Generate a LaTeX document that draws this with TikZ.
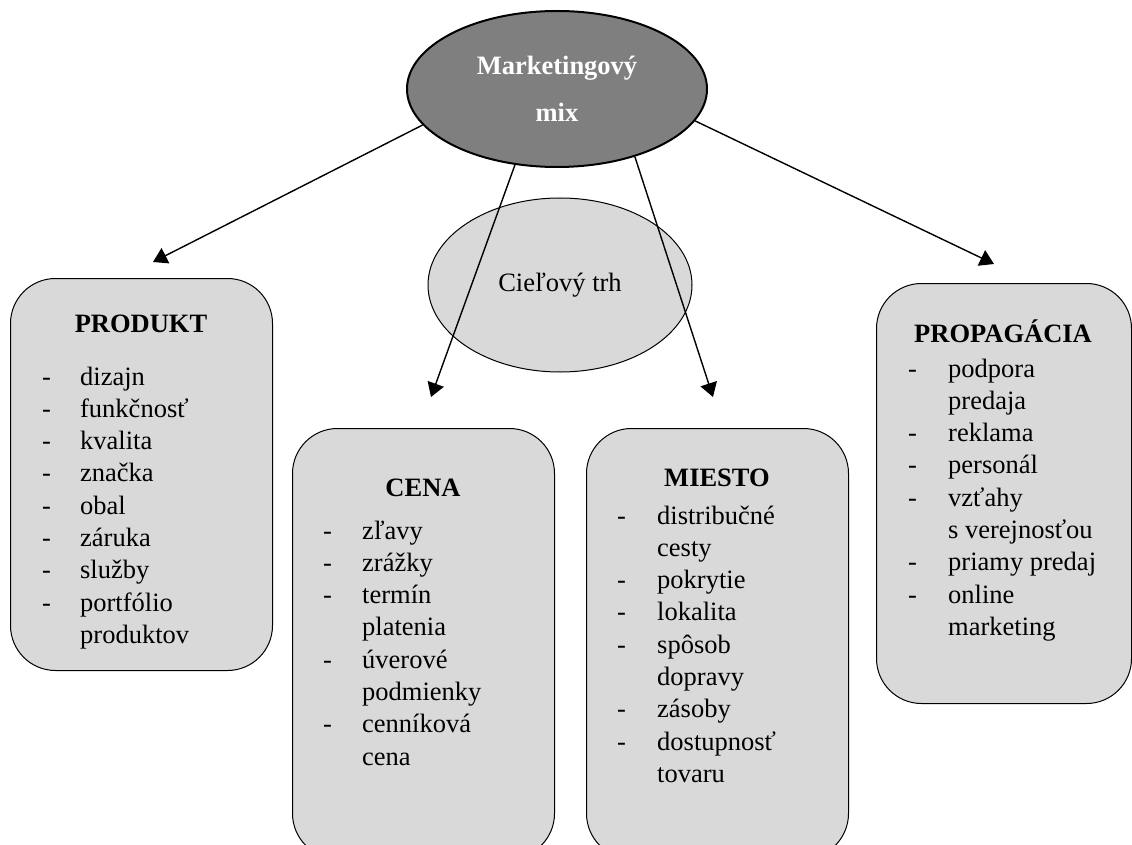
\documentclass[tikz,border=0pt]{standalone}
\usepackage{fontspec}
\setmainfont{Liberation Serif}
\usetikzlibrary{shapes.geometric,arrows.meta}
\definecolor{boxgray}{HTML}{D9D9D9}
\definecolor{mixgray}{HTML}{7F7F7F}
\begin{document}
\begin{tikzpicture}[x=1pt,y=-1pt,
  every node/.style={font=\fontsize{26.5}{32.3}\selectfont},
  panel/.style={draw=black, line width=1pt, fill=boxgray, rounded corners=45pt,
    anchor=north west, inner sep=0},
  heading/.style={font=\fontsize{26.5}{32.3}\selectfont\bfseries, anchor=base, inner sep=0},
  items/.style={anchor=base west, inner sep=0, align=left},
  link/.style={line width=1.4pt, -{Triangle[length=14pt,width=17pt]}}
]
\useasboundingbox (0,0) rectangle (1132,845);

% target market ellipse
\node[ellipse, draw=black, line width=1pt, fill=boxgray, minimum width=264pt,
  minimum height=174pt, inner sep=0] (target) at (560,285) {Cieľový trh};

% the four panels
\node[panel, minimum width=262pt, minimum height=392pt] (prod) at (10,278) {};
\node[panel, minimum width=262pt, minimum height=430pt] (cena) at (292,428) {};
\node[panel, minimum width=262pt, minimum height=430pt] (miesto) at (586,428) {};
\node[panel, minimum width=255pt, minimum height=420pt] (prop) at (876,283) {};

% panel headings
\node[heading] (prodT) at (141,332) {PRODUKT};
\node[heading] (cenaT) at (423,496) {CENA};
\node[heading] (miestoT) at (717,486) {MIESTO};
\node[heading] (propT) at (1003,342) {PROPAGÁCIA};

% panel items
\node[items] (prodL) at (42,385) {\begin{tabular}[t]{@{}p{38pt}@{}l@{}}
-&dizajn\\ -&funkčnosť\\ -&kvalita\\ -&značka\\ -&obal\\ -&záruka\\
-&služby\\ -&portfólio\\ &produktov\end{tabular}};
\node[items] (cenaL) at (323,539) {\begin{tabular}[t]{@{}p{39pt}@{}l@{}}
-&zľavy\\ -&zrážky\\ -&termín\\ &platenia\\ -&úverové\\ &podmienky\\
-&cenníková\\ &cena\end{tabular}};
\node[items] (miestoL) at (617,524) {\begin{tabular}[t]{@{}p{40pt}@{}l@{}}
-&distribučné\\ &cesty\\ -&pokrytie\\ -&lokalita\\ -&spôsob\\ &dopravy\\
-&zásoby\\ -&dostupnosť\\ &tovaru\end{tabular}};
\node[items] (propL) at (908,377) {\begin{tabular}[t]{@{}p{40pt}@{}l@{}}
-&podpora\\ &predaja\\ -&reklama\\ -&personál\\ -&vzťahy\\ &s verejnosťou\\
-&priamy predaj\\ -&online\\ &marketing\end{tabular}};

% arrow ends above the panels
\coordinate (tipP) at (153,262);
\coordinate (tipC) at (431,397);
\coordinate (tipM) at (713,397);
\coordinate (tipR) at (994,264);

% marketing mix ellipse
\node[ellipse, draw=black, line width=2pt, fill=mixgray, minimum width=300pt,
  minimum height=156pt, inner sep=0, text=white, align=center,
  font=\fontsize{26.5}{47}\selectfont\bfseries] (mix) at (557,89)
  {Marketingový\\mix};

\draw[link] (mix.195) -- (tipP);
\draw[link] (mix.241) -- (tipC);
\draw[link] (mix.319) -- (tipM);
\draw[link] (mix.347) -- (tipR);
\end{tikzpicture}
\end{document}
